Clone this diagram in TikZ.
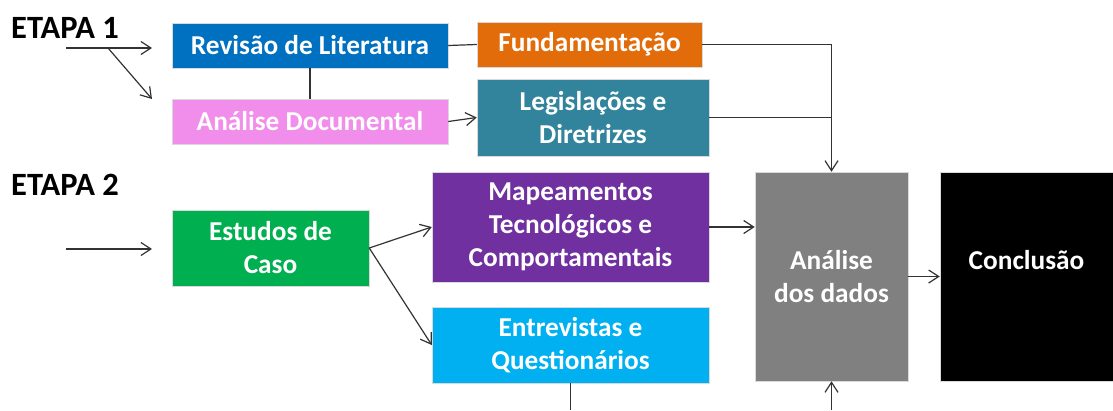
\documentclass[tikz,border=0pt]{standalone}
\usepackage{fontspec}
\setmainfont{Carlito}
\usetikzlibrary{arrows.meta}
\definecolor{cRev}{RGB}{0,112,192}
\definecolor{cFund}{RGB}{227,108,10}
\definecolor{cDoc}{RGB}{241,141,234}
\definecolor{cLeg}{RGB}{49,132,155}
\definecolor{cMap}{RGB}{112,48,160}
\definecolor{cEst}{RGB}{0,176,80}
\definecolor{cEnt}{RGB}{0,176,240}
\definecolor{cAn}{RGB}{128,128,128}
\begin{document}
\begin{tikzpicture}[x=1pt,y=-1pt,
  box/.style={rectangle, inner sep=0pt, draw=white!85!black, line width=0.5pt, text=white,
    font=\bfseries\fontsize{27.3}{33}\selectfont, align=center},
  etapa/.style={anchor=west, inner sep=0pt, font=\bfseries\fontsize{32.5}{38}\selectfont},
  conn/.style={draw=black!80, line width=1.2pt},
  arr/.style={conn, -{Straight Barb[length=10pt,width=13pt]}}]
\useasboundingbox (0,0) rectangle (1113,410);
\node[etapa] (e1) at (11,28) {ETAPA 1};
\node[etapa] (e2) at (11,185) {ETAPA 2};
\node[box, fill=cRev, minimum width=276pt, minimum height=45pt] (rev) at (310,45.5) {Revisão de Literatura};
\node[box, fill=cDoc, minimum width=276pt, minimum height=45pt] (ad) at (310,121.5) {Análise Documental};
\node[box, fill=cFund, minimum width=225pt, minimum height=45pt] (fund) at (589.5,44.5) {Fundamentação};
\node[box, fill=cLeg, minimum width=232pt, minimum height=77pt] (leg) at (593,117.5) {Legislações e\\Diretrizes};
\node[box, fill=cEst, minimum width=197pt, minimum height=76pt] (est) at (270.5,248) {Estudos de\\Caso};
\node[box, fill=cMap, minimum width=277pt, minimum height=110pt] (map) at (570.5,227) {Mapeamentos\\Tecnológicos e\\Comportamentais};
\node[box, fill=cEnt, minimum width=277pt, minimum height=76pt] (ent) at (570.5,345) {Entrevistas e\\Questionários};
\node[box, fill=cAn, minimum width=153pt, minimum height=209pt] (an) at (831.5,276.5) {Análise\\dos dados};
\node[box, fill=black, minimum width=173pt, minimum height=209pt] (conc) at (1026.5,276.5) {Conclusão\\\phantom{C}};
% free ends
\coordinate (s1) at (66,48);
\coordinate (s1b) at (108,48);
\coordinate (t1) at (152,48);
\coordinate (t2) at (152,99);
\coordinate (s2) at (66,249);
\coordinate (t3) at (152,249);
\coordinate (b1) at (570.5,410);
\coordinate (b2) at (831.5,410);
% connectors
\draw[arr] (s1) -- (t1);
\draw[arr] (s1b) -- (t2);
\draw[arr] (s2) -- (t3);
\draw[conn] (rev.south) -- (ad.north);
\draw[conn] (rev.east) -- (fund.west);
\draw[arr] (ad.east) -- (leg.west);
\draw[arr] (fund.east) -| (an.north);
\draw[conn] (leg.east) -- (leg.east -| an.north);
\draw[arr] (est.east) -- (map.west);
\draw[arr] (est.east) -- (ent.west);
\draw[arr] (map.east) -- (map.east -| an.west);
\draw[arr] (an.east) -- (an.east -| conc.west);
\draw[conn] (ent.south) -- (b1);
\draw[arr] (b2) -- (an.south);
\end{tikzpicture}
\end{document}
